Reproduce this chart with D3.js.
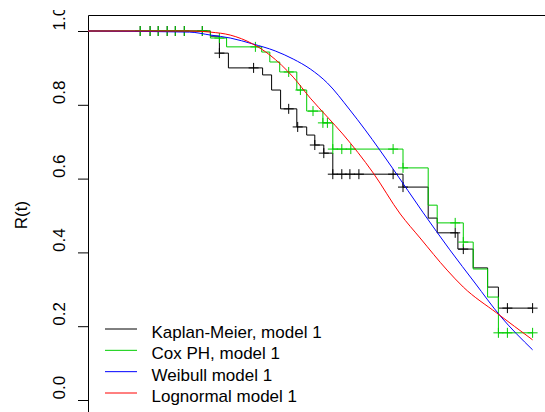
<!DOCTYPE html>
<html>
<head>
<meta charset="utf-8">
<script src="https://cdn.jsdelivr.net/npm/d3@7"></script>
<style>
  body { margin: 0; background: #fff; }
  text { font-family: "Liberation Sans", Arial, sans-serif; }
</style>
</head>
<body>
<div id="chart"></div>
<script>
// Kaplan-Meier estimate (step function) and its censoring times
const kmTimes = [0, 13.6, 14.6, 15.6, 19.4, 20.4, 21.4, 23.2, 24.3, 25.2, 26.2, 27.2, 35.0, 37.8, 38.8, 41.1, 42.8, 44.4, 45.6, 49.4];
const kmSurv = [1, 0.986, 0.940, 0.900, 0.881, 0.840, 0.789, 0.740, 0.718, 0.691, 0.669, 0.612, 0.577, 0.493, 0.453, 0.409, 0.358, 0.306, 0.249, 0.249];
const kmCensor = [5.8, 6.9, 7.8, 8.8, 9.7, 10.7, 12.7, 14.6, 18.4, 22.3, 23.3, 25.2, 26.2, 27.2, 28.2, 29.1, 30.1, 33.9, 35.0, 40.8, 41.7, 46.6, 49.4];

// Cox PH estimate (step function) and its censoring times
const coxTimes = [0, 13.6, 15.4, 19.3, 20.2, 21.3, 23.2, 24.3, 26.1, 27.2, 35.0, 37.8, 38.8, 41.7, 42.8, 44.4, 45.6, 49.4];
const coxSurv = [1, 0.981, 0.957, 0.943, 0.916, 0.889, 0.840, 0.783, 0.751, 0.680, 0.629, 0.528, 0.480, 0.428, 0.355, 0.279, 0.182, 0.182];
const coxCensor = [5.8, 6.9, 7.8, 8.8, 9.7, 10.7, 12.7, 14.6, 18.6, 22.3, 23.6, 25.0, 26.1, 26.6, 27.2, 28.2, 29.2, 33.9, 35.0, 40.8, 41.7, 45.6, 46.6, 49.4];

// Parametric fits
const weibullTimes = [0, 11.3, 13.6, 15.8, 18.3, 20.8, 22.8, 24.7, 26.6, 29.1, 30.8, 33.9, 37.2, 40.2, 43.0, 45.8, 49.4];
const weibullSurv = [1, 0.997, 0.989, 0.981, 0.965, 0.946, 0.924, 0.897, 0.859, 0.786, 0.732, 0.626, 0.509, 0.407, 0.317, 0.228, 0.136];

const lognormTimes = [0, 11.3, 13.6, 15.8, 18.3, 20.2, 22.8, 24.7, 26.6, 28.3, 31.7, 34.7, 36.9, 39.9, 41.7, 45.4, 49.4];
const lognormSurv = [1, 1, 0.997, 0.989, 0.965, 0.935, 0.875, 0.818, 0.767, 0.721, 0.615, 0.504, 0.439, 0.352, 0.306, 0.236, 0.163];

const yTicks = [0, 0.2, 0.4, 0.6, 0.8, 1.0];
const legendLabels = ["Kaplan-Meier, model 1", "Cox PH, model 1", "Weibull model 1", "Lognormal model 1"];
const colors = ["#000000", "#00cd00", "#0000ff", "#ff0000"];

const width = 545;
const height = 412;

const svg = d3.select("#chart")
    .append("svg")
    .attr("width", width)
    .attr("height", height);

const x = d3.scaleLinear().domain([0, 51]).range([88, 547]);
const y = d3.scaleLinear().domain([0, 1]).range([400, 31]);

// the top tick label is cut by the figure edge in the original
svg.append("clipPath").attr("id", "fig-clip")
    .append("rect").attr("x", 0).attr("y", 10).attr("width", width).attr("height", height);

// y axis
const yAxis = svg.append("g")
    .attr("clip-path", "url(#fig-clip)")
    .append("g")
    .attr("transform", "translate(88,0)")
    .call(d3.axisLeft(y).tickValues(yTicks).tickSize(10).tickFormat(d3.format(".1f")));

yAxis.select(".domain").remove();
yAxis.selectAll(".tick line").attr("stroke", "#000");
yAxis.selectAll(".tick text")
    .attr("transform", "rotate(-90)")
    .attr("x", 1)
    .attr("y", -23)
    .attr("dy", 0)
    .attr("text-anchor", "start")
    .attr("font-size", 17)
    .attr("fill", "#000");

// box: only the top and left edges are inside the picture
svg.append("path")
    .attr("d", `M88.5,${height} V15.5 H${width}`)
    .attr("fill", "none")
    .attr("stroke", "#000")
    .attr("stroke-width", 1);

svg.append("text")
    .attr("transform", "translate(27,215) rotate(-90)")
    .attr("text-anchor", "middle")
    .attr("font-size", 17)
    .text("R(t)");

const toPoints = (ts, ss) => ts.map((t, i) => [t, ss[i]]);

const stepLine = d3.line()
    .x(d => x(d[0]))
    .y(d => y(d[1]))
    .curve(d3.curveStepAfter);

const smoothLine = d3.line()
    .x(d => x(d[0]))
    .y(d => y(d[1]))
    .curve(d3.curveMonotoneX);

// value of a step curve at time t
function stepValue(ts, ss, t) {
    const i = d3.bisectRight(ts, t) - 1;
    return ss[Math.max(0, i)];
}

function drawCensor(ts, ss, cens, color) {
    svg.append("g")
        .selectAll("path")
        .data(cens)
        .join("path")
        .attr("d", t => {
            const cx = x(t), cy = y(stepValue(ts, ss, t));
            return `M${cx - 5},${cy} H${cx + 5} M${cx},${cy - 5} V${cy + 5}`;
        })
        .attr("stroke", color)
        .attr("stroke-width", 1)
        .attr("fill", "none");
}

// Kaplan-Meier
svg.append("path")
    .datum(toPoints(kmTimes, kmSurv))
    .attr("fill", "none")
    .attr("stroke", colors[0])
    .attr("stroke-width", 1)
    .attr("d", stepLine);
drawCensor(kmTimes, kmSurv, kmCensor, colors[0]);

// Cox PH
svg.append("path")
    .datum(toPoints(coxTimes, coxSurv))
    .attr("fill", "none")
    .attr("stroke", colors[1])
    .attr("stroke-width", 1)
    .attr("d", stepLine);
drawCensor(coxTimes, coxSurv, coxCensor, colors[1]);

// Weibull
svg.append("path")
    .datum(toPoints(weibullTimes, weibullSurv))
    .attr("fill", "none")
    .attr("stroke", colors[2])
    .attr("stroke-width", 1)
    .attr("d", smoothLine);

// Lognormal
svg.append("path")
    .datum(toPoints(lognormTimes, lognormSurv))
    .attr("fill", "none")
    .attr("stroke", colors[3])
    .attr("stroke-width", 1)
    .attr("d", smoothLine);

// legend
const legend = svg.append("g");
const legendY = d3.scalePoint().domain(legendLabels).range([329, 393]);

legend.selectAll("line")
    .data(legendLabels)
    .join("line")
    .attr("x1", 105)
    .attr("x2", 137)
    .attr("y1", d => legendY(d))
    .attr("y2", d => legendY(d))
    .attr("stroke", (d, i) => colors[i])
    .attr("stroke-width", 1);

legend.selectAll("text")
    .data(legendLabels)
    .join("text")
    .attr("x", 151.5)
    .attr("y", d => legendY(d) + 9)
    .attr("font-size", 17)
    .text(d => d);
</script>
</body>
</html>
